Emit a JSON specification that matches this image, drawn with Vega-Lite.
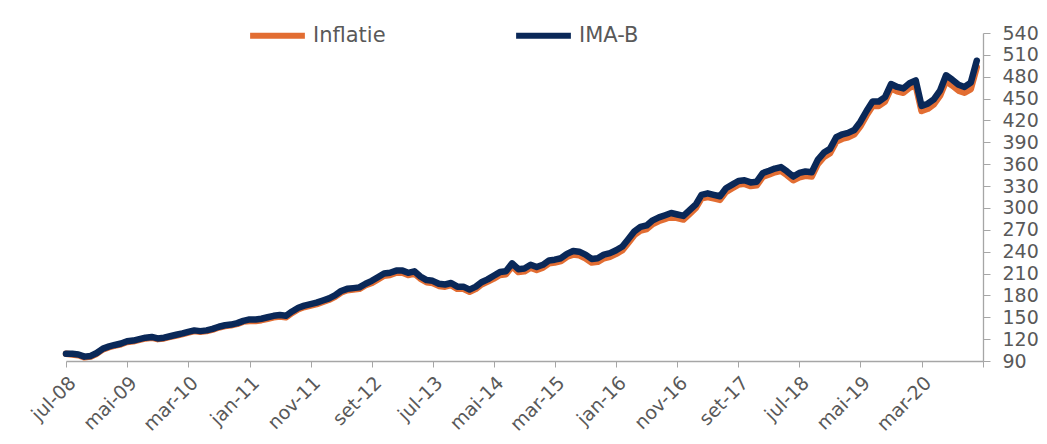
{
"$schema": "https://vega.github.io/schema/vega-lite/v6.json",
"width": 917,
"height": 328,
"autosize": {"type": "none"},
"padding": {"left": 66, "top": 33, "right": 64, "bottom": 83},
"background": "white",
"config": {"view": {"stroke": null}, "font": "DejaVu Sans"},
"data": {"values": [
{"d":"2008-07-01","imab":100,"infl":100},
{"d":"2008-08-01","imab":100,"infl":99},
{"d":"2008-09-01","imab":99,"infl":98},
{"d":"2008-10-01","imab":96,"infl":95},
{"d":"2008-11-01","imab":97,"infl":96},
{"d":"2008-12-01","imab":101,"infl":100},
{"d":"2009-01-01","imab":107,"infl":106},
{"d":"2009-02-01","imab":110,"infl":109},
{"d":"2009-03-01","imab":112,"infl":111},
{"d":"2009-04-01","imab":114,"infl":113},
{"d":"2009-05-01","imab":117,"infl":116},
{"d":"2009-06-01","imab":118,"infl":117},
{"d":"2009-07-01","imab":120,"infl":119},
{"d":"2009-08-01","imab":122,"infl":121},
{"d":"2009-09-01","imab":123,"infl":122},
{"d":"2009-10-01","imab":121,"infl":120},
{"d":"2009-11-01","imab":122,"infl":121},
{"d":"2009-12-01","imab":124,"infl":123},
{"d":"2010-01-01","imab":126,"infl":125},
{"d":"2010-02-01","imab":128,"infl":127},
{"d":"2010-03-01","imab":130,"infl":129},
{"d":"2010-04-01","imab":132,"infl":131},
{"d":"2010-05-01","imab":131,"infl":130},
{"d":"2010-06-01","imab":132,"infl":131},
{"d":"2010-07-01","imab":134,"infl":133},
{"d":"2010-08-01","imab":137,"infl":136},
{"d":"2010-09-01","imab":139,"infl":138},
{"d":"2010-10-01","imab":140,"infl":139},
{"d":"2010-11-01","imab":142,"infl":141},
{"d":"2010-12-01","imab":145,"infl":144},
{"d":"2011-01-01","imab":147,"infl":145},
{"d":"2011-02-01","imab":147,"infl":145},
{"d":"2011-03-01","imab":148,"infl":146},
{"d":"2011-04-01","imab":150,"infl":148},
{"d":"2011-05-01","imab":152,"infl":150},
{"d":"2011-06-01","imab":153,"infl":151},
{"d":"2011-07-01","imab":152,"infl":150},
{"d":"2011-08-01","imab":158,"infl":156},
{"d":"2011-09-01","imab":163,"infl":161},
{"d":"2011-10-01","imab":166,"infl":164},
{"d":"2011-11-01","imab":168,"infl":166},
{"d":"2011-12-01","imab":170,"infl":168},
{"d":"2012-01-01","imab":173,"infl":171},
{"d":"2012-02-01","imab":176,"infl":174},
{"d":"2012-03-01","imab":180,"infl":178},
{"d":"2012-04-01","imab":186,"infl":184},
{"d":"2012-05-01","imab":189,"infl":187},
{"d":"2012-06-01","imab":190,"infl":188},
{"d":"2012-07-01","imab":191,"infl":189},
{"d":"2012-08-01","imab":196,"infl":194},
{"d":"2012-09-01","imab":200,"infl":197},
{"d":"2012-10-01","imab":205,"infl":202},
{"d":"2012-11-01","imab":210,"infl":207},
{"d":"2012-12-01","imab":211,"infl":208},
{"d":"2013-01-01","imab":214,"infl":211},
{"d":"2013-02-01","imab":214,"infl":211},
{"d":"2013-03-01","imab":211,"infl":208},
{"d":"2013-04-01","imab":213,"infl":210},
{"d":"2013-05-01","imab":206,"infl":203},
{"d":"2013-06-01","imab":201,"infl":198},
{"d":"2013-07-01","imab":200,"infl":197},
{"d":"2013-08-01","imab":196,"infl":193},
{"d":"2013-09-01","imab":195,"infl":192},
{"d":"2013-10-01","imab":197,"infl":194},
{"d":"2013-11-01","imab":192,"infl":189},
{"d":"2013-12-01","imab":192,"infl":189},
{"d":"2014-01-01","imab":188,"infl":185},
{"d":"2014-02-01","imab":192,"infl":189},
{"d":"2014-03-01","imab":198,"infl":195},
{"d":"2014-04-01","imab":202,"infl":199},
{"d":"2014-05-01","imab":207,"infl":203},
{"d":"2014-06-01","imab":212,"infl":208},
{"d":"2014-07-01","imab":213,"infl":209},
{"d":"2014-08-01","imab":224,"infl":220},
{"d":"2014-09-01","imab":216,"infl":212},
{"d":"2014-10-01","imab":217,"infl":213},
{"d":"2014-11-01","imab":222,"infl":218},
{"d":"2014-12-01","imab":219,"infl":215},
{"d":"2015-01-01","imab":222,"infl":218},
{"d":"2015-02-01","imab":228,"infl":224},
{"d":"2015-03-01","imab":229,"infl":225},
{"d":"2015-04-01","imab":231,"infl":227},
{"d":"2015-05-01","imab":237,"infl":233},
{"d":"2015-06-01","imab":241,"infl":236},
{"d":"2015-07-01","imab":240,"infl":235},
{"d":"2015-08-01","imab":236,"infl":231},
{"d":"2015-09-01","imab":230,"infl":225},
{"d":"2015-10-01","imab":231,"infl":226},
{"d":"2015-11-01","imab":236,"infl":231},
{"d":"2015-12-01","imab":238,"infl":233},
{"d":"2016-01-01","imab":242,"infl":237},
{"d":"2016-02-01","imab":247,"infl":242},
{"d":"2016-03-01","imab":257,"infl":252},
{"d":"2016-04-01","imab":268,"infl":263},
{"d":"2016-05-01","imab":274,"infl":269},
{"d":"2016-06-01","imab":276,"infl":271},
{"d":"2016-07-01","imab":283,"infl":278},
{"d":"2016-08-01","imab":287,"infl":282},
{"d":"2016-09-01","imab":290,"infl":285},
{"d":"2016-10-01","imab":293,"infl":288},
{"d":"2016-11-01","imab":291,"infl":286},
{"d":"2016-12-01","imab":289,"infl":284},
{"d":"2017-01-01","imab":297,"infl":292},
{"d":"2017-02-01","imab":305,"infl":300},
{"d":"2017-03-01","imab":318,"infl":313},
{"d":"2017-04-01","imab":320,"infl":315},
{"d":"2017-05-01","imab":318,"infl":313},
{"d":"2017-06-01","imab":316,"infl":311},
{"d":"2017-07-01","imab":327,"infl":322},
{"d":"2017-08-01","imab":332,"infl":327},
{"d":"2017-09-01","imab":337,"infl":332},
{"d":"2017-10-01","imab":338,"infl":333},
{"d":"2017-11-01","imab":335,"infl":330},
{"d":"2017-12-01","imab":336,"infl":331},
{"d":"2018-01-01","imab":348,"infl":343},
{"d":"2018-02-01","imab":351,"infl":346},
{"d":"2018-03-01","imab":354,"infl":349},
{"d":"2018-04-01","imab":356,"infl":351},
{"d":"2018-05-01","imab":350,"infl":345},
{"d":"2018-06-01","imab":343,"infl":338},
{"d":"2018-07-01","imab":348,"infl":342},
{"d":"2018-08-01","imab":350,"infl":344},
{"d":"2018-09-01","imab":349,"infl":343},
{"d":"2018-10-01","imab":366,"infl":360},
{"d":"2018-11-01","imab":376,"infl":370},
{"d":"2018-12-01","imab":381,"infl":375},
{"d":"2019-01-01","imab":397,"infl":391},
{"d":"2019-02-01","imab":401,"infl":395},
{"d":"2019-03-01","imab":403,"infl":397},
{"d":"2019-04-01","imab":407,"infl":401},
{"d":"2019-05-01","imab":418,"infl":412},
{"d":"2019-06-01","imab":433,"infl":427},
{"d":"2019-07-01","imab":446,"infl":440},
{"d":"2019-08-01","imab":446,"infl":440},
{"d":"2019-09-01","imab":452,"infl":446},
{"d":"2019-10-01","imab":470,"infl":464},
{"d":"2019-11-01","imab":466,"infl":460},
{"d":"2019-12-01","imab":464,"infl":458},
{"d":"2020-01-01","imab":471,"infl":465},
{"d":"2020-02-01","imab":475,"infl":468},
{"d":"2020-03-01","imab":440,"infl":433},
{"d":"2020-04-01","imab":443,"infl":436},
{"d":"2020-05-01","imab":449,"infl":442},
{"d":"2020-06-01","imab":461,"infl":454},
{"d":"2020-07-01","imab":482,"infl":474},
{"d":"2020-08-01","imab":476,"infl":468},
{"d":"2020-09-01","imab":469,"infl":461},
{"d":"2020-10-01","imab":466,"infl":458},
{"d":"2020-11-01","imab":472,"infl":463},
{"d":"2020-12-01","imab":502,"infl":493}
]},
"encoding": {
"x": {"field": "d", "type": "temporal",
"scale": {"type": "utc", "domain": [{"year": 2008, "month": 7, "date": 1, "utc": true}, {"year": 2021, "month": 1, "date": 1, "utc": true}]},
"axis": {"title": null, "grid": false,
"values": [{"year":2008,"month":7,"date":1,"utc":true},{"year":2009,"month":5,"date":1,"utc":true},{"year":2010,"month":3,"date":1,"utc":true},{"year":2011,"month":1,"date":1,"utc":true},{"year":2011,"month":11,"date":1,"utc":true},{"year":2012,"month":9,"date":1,"utc":true},{"year":2013,"month":7,"date":1,"utc":true},{"year":2014,"month":5,"date":1,"utc":true},{"year":2015,"month":3,"date":1,"utc":true},{"year":2016,"month":1,"date":1,"utc":true},{"year":2016,"month":11,"date":1,"utc":true},{"year":2017,"month":9,"date":1,"utc":true},{"year":2018,"month":7,"date":1,"utc":true},{"year":2019,"month":5,"date":1,"utc":true},{"year":2020,"month":3,"date":1,"utc":true},{"year":2021,"month":1,"date":1,"utc":true}],
"labelExpr": "utcyear(datum.value) >= 2021 ? '' : ['jan','fev','mar','abr','mai','jun','jul','ago','set','out','nov','dez'][utcmonth(datum.value)] + '-' + utcFormat(datum.value, '%y')",
"labelAngle": -45, "labelAlign": "right", "labelBaseline": "top", "labelFontSize": 19, "labelColor": "#595959", "labelFont": "DejaVu Sans",
"domainColor": "#A6A6A6", "domainWidth": 1.3, "tickColor": "#A6A6A6", "tickSize": 6, "labelPadding": 6, "labelOverlap": false, "labelBound": false, "labelFlush": false}}
},
"layer": [
{
"mark": {"type": "line", "strokeWidth": 6.5, "strokeJoin": "round", "strokeCap": "round"},
"encoding": {
"y": {"field": "infl", "type": "quantitative",
"scale": {"domain": [90, 540], "nice": false, "zero": false},
"axis": {"orient": "right", "title": null, "grid": false,
"values": [90,120,150,180,210,240,270,300,330,360,390,420,450,480,510,540],
"labelFontSize": 19, "labelColor": "#595959", "labelFont": "DejaVu Sans",
"domainColor": "#A6A6A6", "domainWidth": 1.3, "tickColor": "#A6A6A6", "tickSize": 7, "labelPadding": 12, "labelOverlap": false, "labelBound": false, "labelFlush": false}},
"color": {"datum": "Inflatie", "type": "nominal",
"scale": {"domain": ["Inflatie", "IMA-B"], "range": ["#E26D32", "#0A2858"]},
"legend": {"title": null, "orient": "none", "direction": "horizontal", "legendX": 181, "legendY": -28,
"symbolType": "stroke", "symbolSize": 3000, "symbolStrokeWidth": 6, "labelFontSize": 21, "labelColor": "#595959", "labelFont": "DejaVu Sans", "labelOffset": 5, "columnPadding": 118}}
}
},
{
"mark": {"type": "line", "strokeWidth": 6.5, "strokeJoin": "round", "strokeCap": "round"},
"encoding": {
"y": {"field": "imab", "type": "quantitative",
"scale": {"domain": [90, 540], "nice": false, "zero": false},
"axis": {"orient": "right", "title": null, "grid": false,
"values": [90,120,150,180,210,240,270,300,330,360,390,420,450,480,510,540],
"labelFontSize": 19, "labelColor": "#595959", "labelFont": "DejaVu Sans",
"domainColor": "#A6A6A6", "domainWidth": 1.3, "tickColor": "#A6A6A6", "tickSize": 7, "labelPadding": 12, "labelOverlap": false, "labelBound": false, "labelFlush": false}},
"color": {"datum": "IMA-B", "type": "nominal"}
}
}
]
}
